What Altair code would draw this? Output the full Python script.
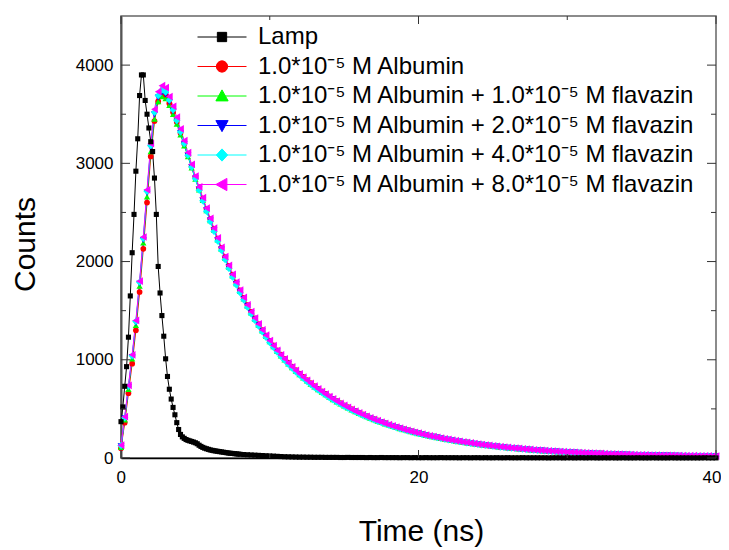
import altair as alt
import pandas as pd

# ---------------- data ----------------
series_names = [
    "Lamp",
    "1.0*10⁻⁵ M Albumin",
    "1.0*10⁻⁵ M Albumin + 1.0*10⁻⁵ M flavazin",
    "1.0*10⁻⁵ M Albumin + 2.0*10⁻⁵ M flavazin",
    "1.0*10⁻⁵ M Albumin + 4.0*10⁻⁵ M flavazin",
    "1.0*10⁻⁵ M Albumin + 8.0*10⁻⁵ M flavazin",
]
series_colors = ["#000000", "#FF0000", "#00FF00", "#0000FF", "#00FFFF", "#FF00FF"]

# time channels (ns)
lamp_time = [i * 0.125 for i in range(65)] + [8 + 0.25 * i for i in range(1, 129)]
fluor_time = [i * 0.25 for i in range(161)]

lamp_counts = [
    370, 520, 730, 930, 1230, 1650, 2090, 2480,
    2920, 3250, 3690, 3900, 3900, 3640, 3500, 3360,
    3220, 3120, 2850, 2480, 1950, 1680, 1450, 1240,
    1010, 830, 700, 600, 515, 440, 360, 290,
    240, 215, 200, 188, 180, 174, 168, 162,
    155, 145, 130, 118, 108, 100, 94, 88,
    82, 78, 74, 71, 68, 65, 62, 59,
    56, 53, 50, 48, 46, 44, 42, 40,
    38,
    35, 33, 31, 29, 27, 25, 23, 21,
    19, 17, 15, 13, 12, 11, 10, 9,
    9, 8, 8, 7, 7, 7, 6, 6,
    6, 6, 5, 5, 6, 5, 5, 5,
    5, 4, 5, 4, 4, 5, 4, 4,
    4, 4, 3, 4, 4, 3, 4, 3,
    3, 4, 3, 3, 3, 4, 3, 3,
    3, 3, 2, 3, 3, 2, 3, 3,
    2, 3, 2, 2, 3, 2, 2, 3,
    2, 2, 2, 3, 2, 2, 2, 2,
    2, 2, 1, 2, 2, 2, 1, 2,
    2, 1, 2, 2, 1, 2, 2, 1,
    1, 2, 1, 2, 1, 1, 2, 1,
    1, 1, 2, 1, 1, 1, 2, 1,
    1, 1, 1, 2, 1, 1, 1, 1,
    1, 1, 1, 1, 2, 1, 1, 1,
]

albumin_counts = [
    100, 360, 660, 960, 1300, 1690, 2130, 2600, 3070, 3430,
    3630, 3700, 3690, 3610, 3520, 3420, 3310, 3200, 3085, 2970,
    2855, 2745, 2640, 2535, 2432, 2333, 2234, 2139, 2045, 1955,
    1866, 1786, 1706, 1631, 1557, 1487, 1422, 1362, 1302, 1247, 1192,
    1147, 1097, 1052, 1010, 970, 930, 894, 859, 825, 793,
    762, 733, 705, 678, 652, 627, 603, 580, 558, 537,
    517, 497, 479, 461, 444, 427, 411, 396, 382, 368,
    354, 341, 329, 317, 305, 294, 283, 273, 263, 254,
    245, 236, 228, 220, 212, 205, 198, 191,
    182, 176, 170, 164, 158, 153, 147, 142, 137, 132,
    128, 123, 119, 115, 111, 107, 104, 100, 97, 93,
    90, 87, 84, 81, 78, 76, 73, 71, 68, 66,
    64, 62, 60, 58, 56, 54, 52, 50, 49, 47,
    46, 44, 43, 41, 40, 39, 38, 36, 35, 34,
    33, 32, 31, 30, 30, 29, 28, 27, 27, 26,
    25, 25, 24, 24, 23, 23, 22, 22, 21, 21,
    20, 20,
]

flav1_counts = [
    110, 390, 700, 1010, 1350, 1750, 2190, 2660, 3120, 3450,
    3630, 3680, 3660, 3590, 3500, 3400, 3290, 3180, 3070, 2955,
    2840, 2730, 2625, 2520, 2418, 2320, 2222, 2127, 2034, 1944,
    1856, 1776, 1697, 1622, 1548, 1479, 1414, 1354, 1295, 1240, 1186,
    1136, 1086, 1042, 1000, 960, 921, 885, 850, 817, 785,
    754, 725, 697, 671, 645, 620, 596, 573, 552, 531,
    511, 491, 473, 455, 439, 422, 406, 391, 377, 363,
    349, 337, 325, 313, 301, 290, 279, 269, 259, 250,
    241, 232, 224, 216, 208, 201, 194, 187,
    180, 174, 168, 162, 156, 151, 145, 140, 135, 130,
    126, 121, 117, 113, 109, 105, 102, 98, 95, 91,
    88, 85, 82, 79, 76, 74, 71, 69, 66, 64,
    62, 60, 58, 56, 54, 52, 50, 48, 47, 45,
    44, 42, 41, 39, 38, 37, 36, 34, 33, 32,
    31, 30, 29, 28, 28, 27, 26, 25, 25, 24,
    23, 23, 22, 22, 21, 21, 20, 20, 19, 19,
    18, 18,
]

flav2_counts = [
    120, 405, 720, 1030, 1375, 1775, 2220, 2700, 3160, 3500,
    3670, 3720, 3700, 3625, 3530, 3425, 3310, 3195, 3080, 2962,
    2846, 2735, 2627, 2522, 2418, 2318, 2219, 2124, 2030, 1941,
    1852, 1773, 1693, 1619, 1545, 1475, 1411, 1351, 1292, 1237, 1183,
    1134, 1084, 1040, 998, 958, 919, 883, 848, 815, 783,
    752, 724, 696, 669, 644, 619, 595, 572, 550, 530,
    510, 490, 472, 454, 438, 421, 405, 390, 376, 362,
    348, 336, 324, 312, 300, 289, 278, 268, 258, 249,
    241, 232, 224, 216, 208, 201, 194, 187,
    180, 174, 168, 162, 156, 151, 145, 140, 135, 130,
    126, 121, 117, 113, 109, 105, 102, 98, 95, 91,
    88, 85, 82, 79, 76, 74, 71, 69, 66, 64,
    62, 60, 58, 56, 54, 52, 50, 48, 47, 45,
    44, 42, 41, 39, 38, 37, 36, 34, 33, 32,
    31, 30, 29, 28, 28, 27, 26, 25, 25, 24,
    23, 23, 22, 22, 21, 21, 20, 20, 19, 19,
    18, 18,
]

flav4_counts = [
    125, 410, 730, 1040, 1390, 1790, 2235, 2715, 3180, 3520,
    3690, 3745, 3725, 3645, 3545, 3435, 3318, 3200, 3082, 2962,
    2843, 2727, 2618, 2512, 2408, 2308, 2209, 2114, 2020, 1931,
    1842, 1763, 1684, 1610, 1536, 1467, 1402, 1343, 1284, 1229, 1176,
    1127, 1078, 1034, 993, 953, 914, 878, 844, 811, 779,
    748, 720, 692, 666, 640, 616, 592, 569, 548, 527,
    507, 488, 470, 452, 435, 419, 403, 388, 374, 360,
    347, 334, 322, 310, 298, 288, 277, 267, 257, 248,
    239, 230, 223, 215, 207, 200, 193, 186,
    179, 173, 167, 161, 155, 150, 144, 139, 134, 129,
    125, 120, 116, 112, 108, 104, 101, 97, 94, 90,
    87, 84, 81, 78, 75, 73, 70, 68, 65, 63,
    61, 59, 57, 55, 53, 51, 49, 47, 46, 44,
    43, 41, 40, 38, 37, 36, 35, 33, 32, 31,
    30, 29, 28, 27, 27, 26, 25, 24, 24, 23,
    22, 22, 21, 21, 20, 20, 19, 19, 18, 18,
    17, 17,
]

flav8_counts = [
    130, 420, 740, 1050, 1400, 1800, 2250, 2730, 3200, 3550,
    3730, 3790, 3770, 3680, 3580, 3470, 3350, 3230, 3110, 2990,
    2870, 2760, 2650, 2545, 2440, 2340, 2240, 2145, 2050, 1960,
    1870, 1790, 1710, 1635, 1560, 1490, 1425, 1365, 1305, 1250, 1195,
    1145, 1095, 1050, 1008, 968, 928, 892, 857, 823, 791,
    760, 731, 703, 676, 650, 625, 601, 578, 556, 535,
    515, 495, 477, 459, 442, 425, 409, 394, 380, 366,
    352, 339, 327, 315, 303, 292, 281, 271, 261, 252,
    243, 234, 226, 218, 210, 203, 196, 189,
    182, 176, 170, 164, 158, 153, 147, 142, 137, 132,
    128, 123, 119, 115, 111, 107, 104, 100, 97, 93,
    90, 87, 84, 81, 78, 76, 73, 71, 68, 66,
    64, 62, 60, 58, 56, 54, 52, 50, 49, 47,
    46, 44, 43, 41, 40, 39, 38, 36, 35, 34,
    33, 32, 31, 30, 30, 29, 28, 27, 27, 26,
    25, 25, 24, 24, 23, 23, 22, 22, 21, 21,
    20, 20,
]

# axis tick positions (data units)
x_major_ticks = [0, 20, 40]
x_minor_ticks = [10, 30]
y_major_ticks = [0, 1000, 2000, 3000, 4000]
y_minor_ticks = [500, 1500, 2500, 3500]

# ---------------- build table ----------------
series_values = [albumin_counts, flav1_counts, flav2_counts, flav4_counts, flav8_counts]
rows = []
for name, vals in zip(series_names[1:], series_values):
    if len(vals) != len(fluor_time):
        raise ValueError(f"{name}: {len(vals)} values")
    for t, c in zip(fluor_time, vals):
        rows.append({"series": name, "time": t, "counts": c})
if len(lamp_counts) != len(lamp_time):
    raise ValueError(f"lamp: {len(lamp_counts)} values")
for t, c in zip(lamp_time, lamp_counts):
    rows.append({"series": "Lamp", "time": t, "counts": c})
df = pd.DataFrame(rows)

W, H = 595, 442
FONT = "Liberation Sans"

x_scale = alt.Scale(domain=[0, 40], nice=False, zero=False)
y_scale = alt.Scale(domain=[0, 4500], nice=False, zero=False)
color_scale = alt.Scale(domain=series_names, range=series_colors)

x_axis = alt.Axis(values=x_major_ticks, format="d", title="Time (ns)", labelPadding=11,
                  labelFlush=True, labelFlushOffset=5, domainColor="#000000", domainWidth=1.5,
                  titleBaseline="alphabetic", titleY=82, titleX=300)
y_axis = alt.Axis(values=y_major_ticks, format="d", title="Counts", labelPadding=8,
                  labelFlush=False, domainColor="#555555", domainWidth=2,
                  titleBaseline="alphabetic", titleX=-87, titleY=228)

base = alt.Chart(df)
lines = base.mark_line(strokeWidth=1).encode(
    x=alt.X("time:Q", scale=x_scale, axis=x_axis),
    y=alt.Y("counts:Q", scale=y_scale, axis=y_axis),
    color=alt.Color("series:N", scale=color_scale, legend=None),
    detail="series:N",
)
points = base.mark_point(filled=True, opacity=1).encode(
    x=alt.X("time:Q", scale=x_scale, axis=x_axis),
    y=alt.Y("counts:Q", scale=y_scale, axis=y_axis),
    color=alt.Color("series:N", scale=color_scale, legend=None),
    shape=alt.Shape("series:N", scale=alt.Scale(
        domain=series_names,
        range=["square", "circle", "triangle-up", "triangle-down", "diamond", "triangle-left"]),
        legend=None),
    size=alt.Size("series:N", scale=alt.Scale(domain=series_names, range=[26, 60, 60, 60, 60, 60]),
                  legend=None),
)

# legend symbols: line with marker in the middle
legend_paths = [
    "M-1,0H1M-0.19,-0.19H0.19V0.19H-0.19Z",
    "M-1,0H1M-0.23,0A0.23,0.23,0,1,0,0.23,0A0.23,0.23,0,1,0,-0.23,0Z",
    "M-1,0H1M0,-0.25L0.25,0.2L-0.25,0.2Z",
    "M-1,0H1M0,0.25L0.25,-0.2L-0.25,-0.2Z",
    "M-1,0H1M0,-0.25L0.23,0L0,0.25L-0.23,0Z",
    "M-1,0H1M-0.25,0L0.2,-0.25L0.2,0.25Z",
]
leg = alt.Legend(
    orient="none", legendX=76, legendY=9, title=None, padding=0,
    labelFont=FONT, labelFontSize=24, labelColor="#000000", labelLimit=700,
    labelOffset=11, symbolSize=2401, symbolStrokeWidth=1, clipHeight=24,
    rowPadding=5.5, symbolOffset=0,
)
legend_layer = base.transform_filter("false").mark_point(filled=True, opacity=1, strokeWidth=1).encode(
    x=alt.X("time:Q", scale=x_scale, axis=x_axis),
    y=alt.Y("counts:Q", scale=y_scale, axis=y_axis),
    fill=alt.Fill("series:N", scale=alt.Scale(domain=series_names, range=series_colors), legend=leg),
    stroke=alt.Stroke("series:N", scale=alt.Scale(domain=series_names, range=series_colors), legend=leg),
    shape=alt.Shape("series:N", scale=alt.Scale(domain=series_names, range=legend_paths), legend=leg),
)

# inward axis ticks
def yticks(vals, x0, x1):
    return alt.Chart(pd.DataFrame({"counts": vals})).mark_rule(color="#333333", strokeWidth=1).encode(
        y=alt.Y("counts:Q", scale=y_scale, axis=y_axis), x=alt.value(x0), x2=alt.value(x1))

def xticks(vals, y0, y1):
    return alt.Chart(pd.DataFrame({"time": vals})).mark_rule(color="#333333", strokeWidth=1).encode(
        x=alt.X("time:Q", scale=x_scale, axis=x_axis), y=alt.value(y0), y2=alt.value(y1))

tick_layers = [
    yticks(y_major_ticks, 0, 9), yticks(y_minor_ticks, 0, 5),
    yticks(y_major_ticks, W - 9, W), yticks(y_minor_ticks, W - 5, W),
    xticks(x_major_ticks, H, H - 8), xticks(x_minor_ticks, H, H - 4),
    xticks(x_major_ticks, 0, 8), xticks(x_minor_ticks, 0, 4),
]

chart = alt.layer(lines, points, legend_layer, *tick_layers).resolve_scale(
    shape="independent", fill="independent", stroke="independent"
).properties(
    width=W, height=H,
    padding={"left": 113, "top": 8, "right": 5, "bottom": 90},
    autosize=alt.AutoSizeParams(type="none"),
).configure_view(
    stroke="#666666", strokeWidth=1.5
).configure_axis(
    labelFont=FONT, titleFont=FONT, labelFontSize=17, titleFontSize=30,
    titleFontWeight="normal", labelColor="#000000", titleColor="#000000",
    grid=False, ticks=False,
)

chart.save("out.html", embed_options={"renderer": "svg", "actions": False})
